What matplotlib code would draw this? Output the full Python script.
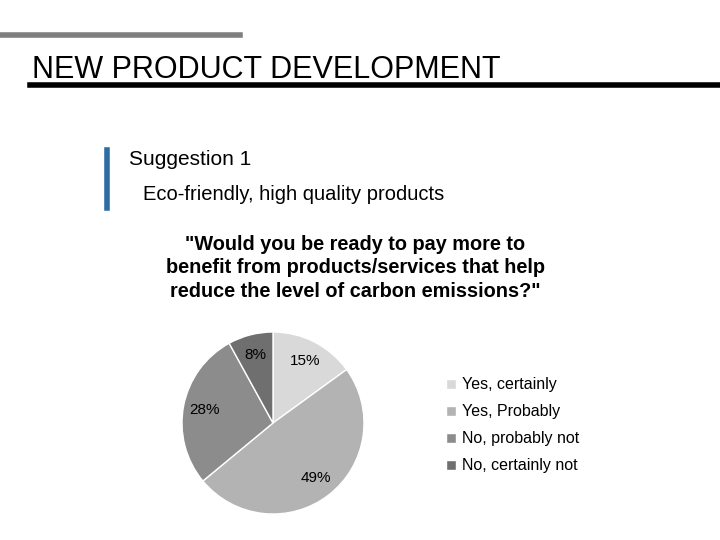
import matplotlib.pyplot as plt
from matplotlib.lines import Line2D

plt.rcParams['font.family'] = ['Liberation Sans', 'DejaVu Sans']

labels = ['Yes, certainly', 'Yes, Probably', 'No, probably not', 'No, certainly not']
shares = [15, 49, 28, 8]
colors = ['#d9d9d9', '#b3b3b3', '#8c8c8c', '#6f6f6f']

fig = plt.figure(figsize=(7.2, 5.4), dpi=100)

# header lines
fig.add_artist(Line2D([0, 240 / 720], [1 - 35 / 540] * 2, color='#7f7f7f', lw=4))
fig.add_artist(Line2D([30 / 720, 1], [1 - 85 / 540] * 2, color='black', lw=4))
fig.text(32 / 720, 1 - 70 / 540, 'NEW PRODUCT DEVELOPMENT', fontsize=22, va='center', ha='left')

# blue bar and bullet text
fig.add_artist(Line2D([107 / 720] * 2, [1 - 150 / 540, 1 - 208 / 540], color='#2e6da4', lw=4))
fig.text(129 / 720, 1 - 159 / 540, 'Suggestion 1', fontsize=15, va='center')
fig.text(143 / 720, 1 - 195 / 540, 'Eco-friendly, high quality products', fontsize=14.5, va='center')

fig.text(355 / 720, 1 - 268 / 540,
         '"Would you be ready to pay more to\nbenefit from products/services that help\nreduce the level of carbon emissions?"',
         fontsize=14.3, fontweight='bold', ha='center', va='center', linespacing=1.3)

ax = fig.add_axes([182 / 720, 26 / 540, 182 / 720, 182 / 540])
wedges, _, autotexts = ax.pie(shares, colors=colors, startangle=90, counterclock=False,
                              autopct='%d%%', pctdistance=0.77,
                              wedgeprops=dict(edgecolor='white', linewidth=1),
                              textprops=dict(fontsize=11))
ax.set_xlim(-1, 1)
ax.set_ylim(-1, 1)
ax.set_aspect('equal')

fig.legend(wedges, labels, loc='upper left', bbox_to_anchor=(432 / 720, 1 - 363 / 540),
           frameon=False, fontsize=11.5, handlelength=0.6, handleheight=0.6,
           handletextpad=0.4, labelspacing=0.75)

fig.savefig('out.png', dpi=100)
